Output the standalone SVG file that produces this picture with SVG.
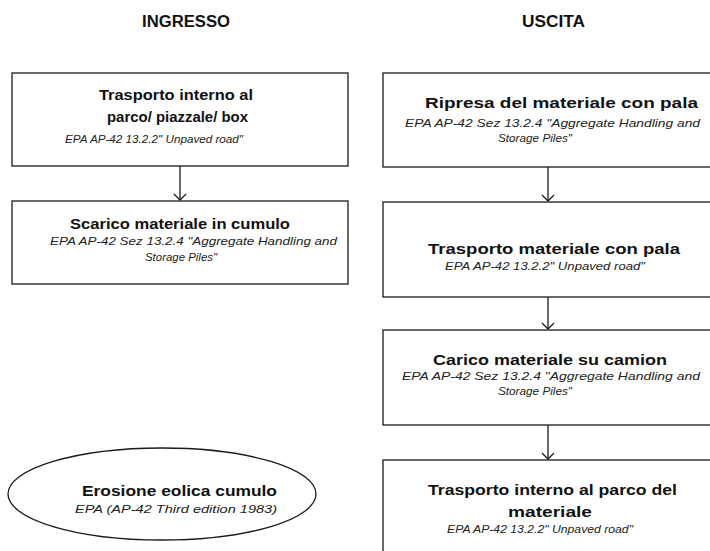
<svg xmlns="http://www.w3.org/2000/svg" width="710" height="551" viewBox="0 0 710 551">
<defs>
<style>
.box{fill:#fff;stroke:#1a1a1a;stroke-width:1.3}
.hd{font-family:"Liberation Sans",Arial,sans-serif;font-size:16px;font-weight:bold;fill:#111}
.t{font-family:"Liberation Sans",Arial,sans-serif;font-size:15px;font-weight:bold;fill:#111}
.s{font-family:"Liberation Sans",Arial,sans-serif;font-size:11.5px;font-style:italic;fill:#222}
.c{stroke:#1a1a1a;stroke-width:1.3;fill:none}
</style>
<marker id="ah" markerWidth="8" markerHeight="14" refX="7" refY="7" orient="auto" markerUnits="userSpaceOnUse" viewBox="0 0 8 14">
<path d="M1,1 L7,7 L1,13" fill="none" stroke="#1a1a1a" stroke-width="1.3"/>
</marker>
</defs>
<rect width="710" height="551" fill="#fff"/>
<text class="hd" x="142" y="27" textLength="88" lengthAdjust="spacingAndGlyphs">INGRESSO</text>
<text class="hd" x="522" y="27" textLength="63" lengthAdjust="spacingAndGlyphs">USCITA</text>
<g id="connectors">
<line class="c" x1="180" y1="166" x2="180" y2="200" marker-end="url(#ah)"/>
<line class="c" x1="548" y1="167" x2="548" y2="201" marker-end="url(#ah)"/>
<line class="c" x1="548" y1="297" x2="548" y2="329" marker-end="url(#ah)"/>
<line class="c" x1="548" y1="425" x2="548" y2="459" marker-end="url(#ah)"/>
</g>
<g id="n1">
<rect class="box" x="12" y="73" width="336" height="93"/>
<text class="t" x="99" y="100" textLength="154" lengthAdjust="spacingAndGlyphs">Trasporto interno al</text>
<text class="t" x="107" y="122" textLength="141" lengthAdjust="spacingAndGlyphs">parco/ piazzale/ box</text>
<text class="s" x="65" y="143" textLength="178" lengthAdjust="spacingAndGlyphs">EPA AP-42 13.2.2" Unpaved road"</text>
</g>
<g id="n2">
<rect class="box" x="12" y="201" width="336" height="83"/>
<text class="t" x="70" y="229" textLength="220" lengthAdjust="spacingAndGlyphs">Scarico materiale in cumulo</text>
<text class="s" x="50" y="245" textLength="287" lengthAdjust="spacingAndGlyphs">EPA AP-42 Sez 13.2.4 "Aggregate Handling and</text>
<text class="s" x="145" y="261" textLength="72" lengthAdjust="spacingAndGlyphs">Storage Piles"</text>
</g>
<g id="n3">
<ellipse class="box" cx="162" cy="494" rx="154" ry="46"/>
<text class="t" x="82" y="496" textLength="195" lengthAdjust="spacingAndGlyphs">Erosione eolica cumulo</text>
<text class="s" x="75" y="513" textLength="202" lengthAdjust="spacingAndGlyphs">EPA (AP-42 Third edition 1983)</text>
</g>
<g id="n4">
<rect class="box" x="383" y="73" width="360" height="94"/>
<text class="t" x="425" y="108" textLength="273" lengthAdjust="spacingAndGlyphs">Ripresa del materiale con pala</text>
<text class="s" x="405" y="127" textLength="295" lengthAdjust="spacingAndGlyphs">EPA AP-42 Sez 13.2.4 "Aggregate Handling and</text>
<text class="s" x="498" y="142" textLength="74" lengthAdjust="spacingAndGlyphs">Storage Piles"</text>
</g>
<g id="n5">
<rect class="box" x="383" y="202" width="360" height="95"/>
<text class="t" x="428" y="254" textLength="252" lengthAdjust="spacingAndGlyphs">Trasporto materiale con pala</text>
<text class="s" x="445" y="270" textLength="200" lengthAdjust="spacingAndGlyphs">EPA AP-42 13.2.2" Unpaved road"</text>
</g>
<g id="n6">
<rect class="box" x="383" y="330" width="360" height="95"/>
<text class="t" x="433" y="365" textLength="234" lengthAdjust="spacingAndGlyphs">Carico materiale su camion</text>
<text class="s" x="402" y="380" textLength="298" lengthAdjust="spacingAndGlyphs">EPA AP-42 Sez 13.2.4 "Aggregate Handling and</text>
<text class="s" x="498" y="395" textLength="74" lengthAdjust="spacingAndGlyphs">Storage Piles"</text>
</g>
<g id="n7">
<rect class="box" x="383" y="460" width="360" height="100"/>
<text class="t" x="428" y="495" textLength="249" lengthAdjust="spacingAndGlyphs">Trasporto interno al parco del</text>
<text class="t" x="508" y="517" textLength="84" lengthAdjust="spacingAndGlyphs">materiale</text>
<text class="s" x="447" y="533" textLength="186" lengthAdjust="spacingAndGlyphs">EPA AP-42 13.2.2" Unpaved road"</text>
</g>
</svg>
